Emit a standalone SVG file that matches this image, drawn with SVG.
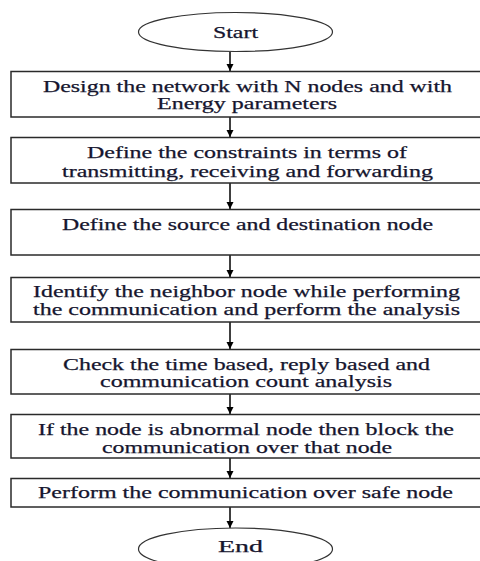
<svg xmlns="http://www.w3.org/2000/svg" width="480" height="561" viewBox="0 0 480 561">
<style>
.box{fill:#fff;stroke:#2a2a2a;stroke-width:1.5}
.term{fill:#fff;stroke:#333;stroke-width:1.2}
.t{font-size:17px;fill:#15152e;stroke:#15152e;stroke-width:0.25}
.c{stroke:#000;stroke-width:1.5;fill:none}
</style>
<defs>
<marker id="ah" markerWidth="8" markerHeight="8" refX="7" refY="4" orient="auto" markerUnits="userSpaceOnUse">
<path d="M0,0.5 L7,4 L0,7.5 Z" fill="#000"/>
</marker>
</defs>
<rect width="480" height="561" fill="#fff"/>
<g id="connectors">
<line class="c" x1="230" y1="52" x2="230" y2="71" marker-end="url(#ah)"/>
<line class="c" x1="230" y1="117" x2="230" y2="137" marker-end="url(#ah)"/>
<line class="c" x1="230" y1="183" x2="230" y2="209" marker-end="url(#ah)"/>
<line class="c" x1="230" y1="255" x2="230" y2="277" marker-end="url(#ah)"/>
<line class="c" x1="230" y1="322" x2="230" y2="349" marker-end="url(#ah)"/>
<line class="c" x1="230" y1="394" x2="230" y2="414" marker-end="url(#ah)"/>
<line class="c" x1="230" y1="458" x2="230" y2="478" marker-end="url(#ah)"/>
<line class="c" x1="230" y1="507" x2="230" y2="528" marker-end="url(#ah)"/>
</g>
<g font-family="'Liberation Serif', 'Times New Roman', serif">
<g id="start">
<ellipse class="term" cx="235.5" cy="32" rx="97" ry="19.5"/>
<text class="t" x="213" y="37.5" textLength="45" lengthAdjust="spacingAndGlyphs">Start</text>
</g>
<g id="n1">
<rect class="box" x="11" y="71.5" width="472" height="45.5"/>
<text class="t" x="43" y="91.7" textLength="409" lengthAdjust="spacingAndGlyphs">Design the network with N nodes and with</text>
<text class="t" x="157" y="109.3" textLength="180" lengthAdjust="spacingAndGlyphs">Energy parameters</text>
</g>
<g id="n2">
<rect class="box" x="11" y="137.5" width="472" height="45.5"/>
<text class="t" x="87" y="158.3" textLength="320" lengthAdjust="spacingAndGlyphs">Define the constraints in terms of</text>
<text class="t" x="62" y="176.7" textLength="371" lengthAdjust="spacingAndGlyphs">transmitting, receiving and forwarding</text>
</g>
<g id="n3">
<rect class="box" x="11" y="209.5" width="472" height="45.5"/>
<text class="t" x="62" y="230" textLength="371" lengthAdjust="spacingAndGlyphs">Define the source and destination node</text>
</g>
<g id="n4">
<rect class="box" x="11" y="277.5" width="472" height="44.5"/>
<text class="t" x="33" y="296.7" textLength="427" lengthAdjust="spacingAndGlyphs">Identify the neighbor node while performing</text>
<text class="t" x="33" y="315" textLength="427" lengthAdjust="spacingAndGlyphs">the communication and perform the analysis</text>
</g>
<g id="n5">
<rect class="box" x="11" y="349.5" width="472" height="44.5"/>
<text class="t" x="63" y="370" textLength="367" lengthAdjust="spacingAndGlyphs">Check the time based, reply based and</text>
<text class="t" x="100" y="387.3" textLength="292" lengthAdjust="spacingAndGlyphs">communication count analysis</text>
</g>
<g id="n6">
<rect class="box" x="11" y="414.5" width="472" height="43.5"/>
<text class="t" x="38" y="435" textLength="416" lengthAdjust="spacingAndGlyphs">If the node is abnormal node then block the</text>
<text class="t" x="102" y="453.3" textLength="290" lengthAdjust="spacingAndGlyphs">communication over that node</text>
</g>
<g id="n7">
<rect class="box" x="11" y="478.5" width="472" height="28.5"/>
<text class="t" x="38" y="498.3" textLength="415" lengthAdjust="spacingAndGlyphs">Perform the communication over safe node</text>
</g>
<g id="end">
<ellipse class="term" cx="235.5" cy="549" rx="97" ry="21"/>
<text class="t" x="218" y="552" textLength="45" lengthAdjust="spacingAndGlyphs">End</text>
</g>
</g>
</svg>
